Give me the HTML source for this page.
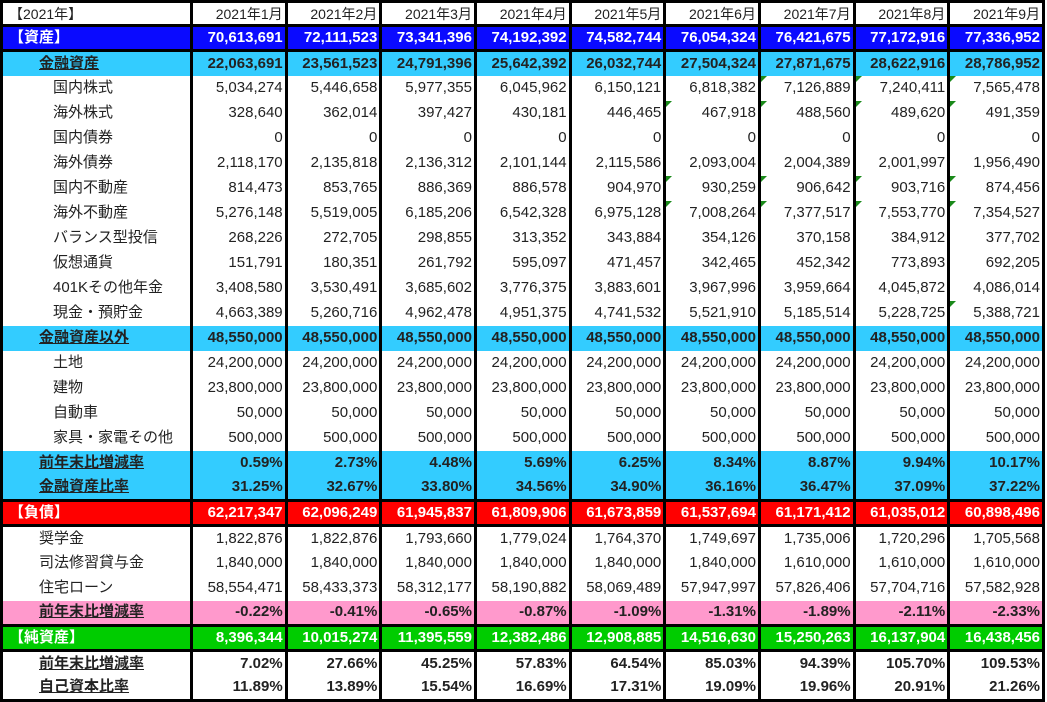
<!DOCTYPE html>
<html><head><meta charset="utf-8">
<style>
html,body{margin:0;padding:0;background:#fff;}
body{width:1047px;height:700px;overflow:hidden;}
table{border-collapse:collapse;table-layout:fixed;width:1045px;margin:0;font-family:"Liberation Sans","Noto Sans CJK JP",sans-serif;font-size:15px;color:#222;border:3px solid #000;}
col.c0{width:190px}
tr{height:25px;}
tr.hd{height:24px;}
td{padding:0 2px 0 0;border-left:3px solid #000;text-align:right;white-space:nowrap;line-height:20px;position:relative;overflow:hidden;}
td:first-child{text-align:left;padding-left:0;}
tr.t td{border-top:3px solid #000;}
.b td{font-weight:bold;}
.w td{color:#fff;}
.blue td{background:#0a0aff;}
.lb td{background:#33ccff;}
.red td{background:#ff0000;}
.pk td{background:#ff99cc;}
.gr td{background:#00cc00;}
.l1{padding-left:10px !important;}
.l2{padding-left:36px !important;}
.l2 span{text-decoration:underline;}
.l3{padding-left:50px !important;}
td.g::before{content:"";position:absolute;left:0;top:0;border-top:6px solid #1a8a1a;border-right:6px solid transparent;}
.hd td{font-size:14px;}
</style></head><body>
<table>
<colgroup><col class="c0"><col><col><col><col><col><col><col><col><col></colgroup>
<tr class="hd"><td class="l1" style="padding-left:6px!important">【2021年】</td><td>2021年1月</td><td>2021年2月</td><td>2021年3月</td><td>2021年4月</td><td>2021年5月</td><td>2021年6月</td><td>2021年7月</td><td>2021年8月</td><td>2021年9月</td></tr>
<tr class="t b w blue"><td class="l1" style="padding-left:6px!important">【資産】</td><td>70,613,691</td><td>72,111,523</td><td>73,341,396</td><td>74,192,392</td><td>74,582,744</td><td>76,054,324</td><td>76,421,675</td><td>77,172,916</td><td>77,336,952</td></tr>
<tr class="t b lb"><td class="l2"><span>金融資産</span></td><td>22,063,691</td><td>23,561,523</td><td>24,791,396</td><td>25,642,392</td><td>26,032,744</td><td>27,504,324</td><td>27,871,675</td><td>28,622,916</td><td>28,786,952</td></tr>
<tr><td class="l3">国内株式</td><td>5,034,274</td><td>5,446,658</td><td>5,977,355</td><td>6,045,962</td><td>6,150,121</td><td>6,818,382</td><td class="g">7,126,889</td><td class="g">7,240,411</td><td class="g">7,565,478</td></tr>
<tr><td class="l3">海外株式</td><td>328,640</td><td>362,014</td><td>397,427</td><td>430,181</td><td>446,465</td><td class="g">467,918</td><td class="g">488,560</td><td class="g">489,620</td><td class="g">491,359</td></tr>
<tr><td class="l3">国内債券</td><td>0</td><td>0</td><td>0</td><td>0</td><td>0</td><td>0</td><td>0</td><td>0</td><td>0</td></tr>
<tr><td class="l3">海外債券</td><td>2,118,170</td><td>2,135,818</td><td>2,136,312</td><td>2,101,144</td><td>2,115,586</td><td>2,093,004</td><td>2,004,389</td><td>2,001,997</td><td>1,956,490</td></tr>
<tr><td class="l3">国内不動産</td><td>814,473</td><td>853,765</td><td>886,369</td><td>886,578</td><td>904,970</td><td class="g">930,259</td><td class="g">906,642</td><td class="g">903,716</td><td class="g">874,456</td></tr>
<tr><td class="l3">海外不動産</td><td>5,276,148</td><td>5,519,005</td><td>6,185,206</td><td>6,542,328</td><td>6,975,128</td><td class="g">7,008,264</td><td class="g">7,377,517</td><td class="g">7,553,770</td><td class="g">7,354,527</td></tr>
<tr><td class="l3">バランス型投信</td><td>268,226</td><td>272,705</td><td>298,855</td><td>313,352</td><td>343,884</td><td>354,126</td><td>370,158</td><td>384,912</td><td>377,702</td></tr>
<tr><td class="l3">仮想通貨</td><td>151,791</td><td>180,351</td><td>261,792</td><td>595,097</td><td>471,457</td><td>342,465</td><td>452,342</td><td>773,893</td><td>692,205</td></tr>
<tr><td class="l3">401Kその他年金</td><td>3,408,580</td><td>3,530,491</td><td>3,685,602</td><td>3,776,375</td><td>3,883,601</td><td>3,967,996</td><td>3,959,664</td><td>4,045,872</td><td>4,086,014</td></tr>
<tr><td class="l3">現金・預貯金</td><td>4,663,389</td><td>5,260,716</td><td>4,962,478</td><td>4,951,375</td><td>4,741,532</td><td>5,521,910</td><td>5,185,514</td><td>5,228,725</td><td class="g">5,388,721</td></tr>
<tr class="b lb"><td class="l2"><span>金融資産以外</span></td><td>48,550,000</td><td>48,550,000</td><td>48,550,000</td><td>48,550,000</td><td>48,550,000</td><td>48,550,000</td><td>48,550,000</td><td>48,550,000</td><td>48,550,000</td></tr>
<tr><td class="l3">土地</td><td>24,200,000</td><td>24,200,000</td><td>24,200,000</td><td>24,200,000</td><td>24,200,000</td><td>24,200,000</td><td>24,200,000</td><td>24,200,000</td><td>24,200,000</td></tr>
<tr><td class="l3">建物</td><td>23,800,000</td><td>23,800,000</td><td>23,800,000</td><td>23,800,000</td><td>23,800,000</td><td>23,800,000</td><td>23,800,000</td><td>23,800,000</td><td>23,800,000</td></tr>
<tr><td class="l3">自動車</td><td>50,000</td><td>50,000</td><td>50,000</td><td>50,000</td><td>50,000</td><td>50,000</td><td>50,000</td><td>50,000</td><td>50,000</td></tr>
<tr><td class="l3">家具・家電その他</td><td>500,000</td><td>500,000</td><td>500,000</td><td>500,000</td><td>500,000</td><td>500,000</td><td>500,000</td><td>500,000</td><td>500,000</td></tr>
<tr class="b lb"><td class="l2"><span>前年末比増減率</span></td><td>0.59%</td><td>2.73%</td><td>4.48%</td><td>5.69%</td><td>6.25%</td><td>8.34%</td><td>8.87%</td><td>9.94%</td><td>10.17%</td></tr>
<tr class="b lb"><td class="l2"><span>金融資産比率</span></td><td>31.25%</td><td>32.67%</td><td>33.80%</td><td>34.56%</td><td>34.90%</td><td>36.16%</td><td>36.47%</td><td>37.09%</td><td>37.22%</td></tr>
<tr class="t b w red"><td class="l1" style="padding-left:6px!important">【負債】</td><td>62,217,347</td><td>62,096,249</td><td>61,945,837</td><td>61,809,906</td><td>61,673,859</td><td>61,537,694</td><td>61,171,412</td><td>61,035,012</td><td>60,898,496</td></tr>
<tr class="t"><td class="l2">奨学金</td><td>1,822,876</td><td>1,822,876</td><td>1,793,660</td><td>1,779,024</td><td>1,764,370</td><td>1,749,697</td><td>1,735,006</td><td>1,720,296</td><td>1,705,568</td></tr>
<tr><td class="l2">司法修習貸与金</td><td>1,840,000</td><td>1,840,000</td><td>1,840,000</td><td>1,840,000</td><td>1,840,000</td><td>1,840,000</td><td>1,610,000</td><td>1,610,000</td><td>1,610,000</td></tr>
<tr><td class="l2">住宅ローン</td><td>58,554,471</td><td>58,433,373</td><td>58,312,177</td><td>58,190,882</td><td>58,069,489</td><td>57,947,997</td><td>57,826,406</td><td>57,704,716</td><td>57,582,928</td></tr>
<tr class="b pk"><td class="l2"><span>前年末比増減率</span></td><td>-0.22%</td><td>-0.41%</td><td>-0.65%</td><td>-0.87%</td><td>-1.09%</td><td>-1.31%</td><td>-1.89%</td><td>-2.11%</td><td>-2.33%</td></tr>
<tr class="t b w gr"><td class="l1" style="padding-left:6px!important">【純資産】</td><td>8,396,344</td><td>10,015,274</td><td>11,395,559</td><td>12,382,486</td><td>12,908,885</td><td>14,516,630</td><td>15,250,263</td><td>16,137,904</td><td>16,438,456</td></tr>
<tr class="t b"><td class="l2"><span>前年末比増減率</span></td><td>7.02%</td><td>27.66%</td><td>45.25%</td><td>57.83%</td><td>64.54%</td><td>85.03%</td><td>94.39%</td><td>105.70%</td><td>109.53%</td></tr>
<tr class="b"><td class="l2"><span>自己資本比率</span></td><td>11.89%</td><td>13.89%</td><td>15.54%</td><td>16.69%</td><td>17.31%</td><td>19.09%</td><td>19.96%</td><td>20.91%</td><td>21.26%</td></tr>
</table>
</body></html>
